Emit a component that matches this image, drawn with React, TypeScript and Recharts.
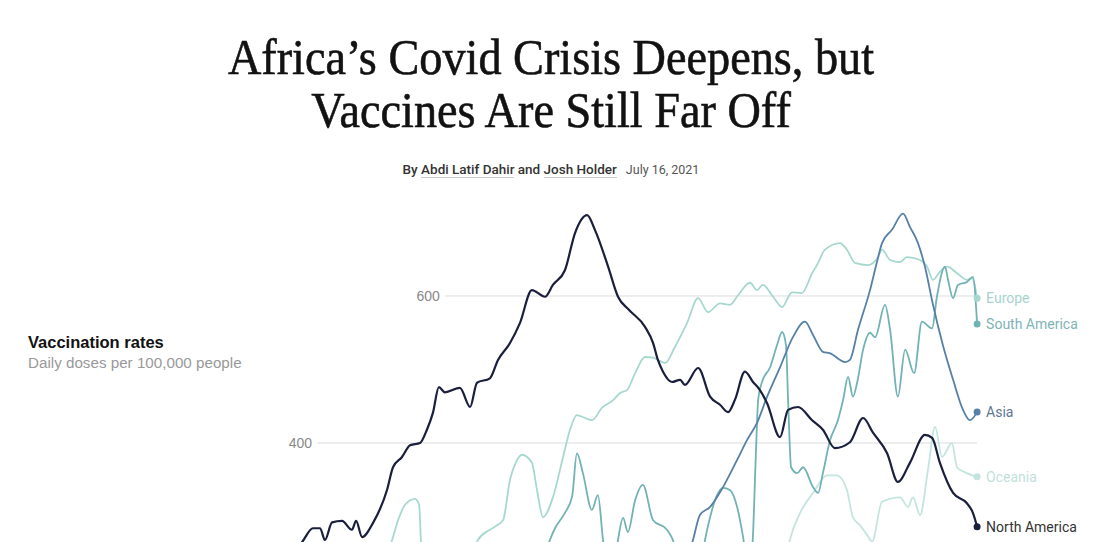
import React from 'react'
import { LineChart, Line, XAxis, YAxis, ReferenceLine } from 'recharts'

// [day, daily doses per 100,000 people]
const northAmerica: [number, number][] = [
  [-2, 250], [1, 267], [4.3, 284], [6.7, 284], [8.3, 268], [10.7, 292], [14, 294], [17.3, 282], [18.7, 294],
  [20.7, 272], [24.3, 291], [29, 336], [31, 367], [34, 381], [36.7, 397], [40, 400], [42.3, 418], [44.3, 441],
  [46.3, 476], [48.3, 469], [53.3, 475], [56.7, 449], [59, 482], [63.3, 488], [66, 513], [70, 536], [73.3, 563],
  [77.3, 608], [81.7, 599], [84.3, 615], [88.3, 635], [91.7, 686], [95.7, 710], [98.3, 690], [102.7, 640],
  [106, 599], [109.7, 581], [115, 558], [117.7, 536], [119.3, 513], [121, 497], [124, 483], [126.7, 486],
  [128.3, 479], [132.7, 502], [136.7, 463], [140, 452], [142.7, 442], [145, 459], [148.3, 497], [151, 483],
  [153.3, 472], [155.7, 454], [160, 408], [162.7, 445], [166, 449], [170.7, 431], [174.3, 418], [178.3, 393],
  [183.3, 401], [187.7, 434], [191, 414], [195.7, 386], [199.3, 347], [203.3, 373], [208.3, 411], [210.7, 407],
  [213.3, 373], [217.7, 332], [222.3, 318], [224.3, 305], [225.7, 286],
]

const europe: [number, number][] = [
  [27, 230], [30.7, 268], [32.7, 295], [35, 316], [38.3, 324], [39.7, 316], [40.3, 268], [41.5, 225], [56, 225],
  [59.3, 268], [63.3, 282], [65.7, 288], [67.7, 295], [70, 350], [72, 374], [74, 384], [77.3, 373], [79, 336],
  [81, 299], [84.3, 326], [87.7, 381], [90, 418], [92.3, 438], [95, 434], [97.3, 431], [100.7, 448], [104.3, 458],
  [106.7, 468], [109, 472], [111.7, 495], [115, 517], [117.7, 516], [121.7, 509], [125, 531], [129, 563],
  [132.7, 597], [136, 578], [140, 590], [143.3, 588], [146, 601], [150, 618], [152.3, 608], [154.3, 615],
  [157.7, 599], [160.7, 585], [164, 605], [167.3, 604], [170.7, 631], [172.3, 642], [175, 663], [180, 672],
  [182.3, 663], [185, 645], [189.3, 642], [192.7, 653], [194, 663], [196.7, 649], [200, 646], [202.3, 653],
  [206.7, 649], [209, 640], [211, 622], [213.3, 633], [215.7, 640], [219, 631], [222.3, 622], [224, 624],
  [225.7, 597],
]

const southAmerica: [number, number][] = [
  [80, 225], [83.3, 268], [85, 284], [88.3, 305], [90.7, 327], [92.3, 386], [94.3, 359], [97.3, 309], [99.3, 329],
  [101, 268], [102.5, 225], [104.5, 225], [106, 268], [107.7, 298], [109.3, 279], [111.7, 322], [114.3, 343],
  [117.7, 295], [122.3, 282], [124.3, 268], [126.5, 235], [133.5, 235], [135, 268], [136.7, 299], [139, 329],
  [141, 339], [143.3, 336], [145.7, 313], [147.7, 272], [149.3, 230], [150.7, 255], [152, 390], [152.7, 458],
  [154, 483], [156.7, 503], [159, 533], [160.7, 551], [162, 533], [162.7, 458], [163.7, 367], [165.7, 359],
  [167.7, 367], [171, 340], [172.7, 332], [174.3, 359], [176.7, 404], [179.3, 431], [181, 458], [182.7, 490],
  [184.3, 463], [185.7, 482], [187.7, 527], [190, 550], [191.7, 544], [195, 588], [196.7, 554], [199.3, 463],
  [201.7, 527], [204.7, 495], [207.3, 565], [210.7, 556], [212.3, 599], [215, 640], [216, 622], [217.7, 597],
  [219.3, 615], [222.3, 619], [224.3, 626], [225.7, 562],
]

const asia: [number, number][] = [
  [128.5, 235], [131, 268], [133.3, 302], [136.7, 313], [141, 340], [145.7, 377], [149, 404], [152.3, 427],
  [155.7, 463], [160, 503], [164.3, 544], [168.3, 565], [171, 547], [174.3, 524], [176.7, 522], [181.7, 510],
  [183.3, 513], [186, 554], [190, 608], [192.3, 646], [194, 672], [197.3, 690], [201, 712], [203.3, 694],
  [206, 672], [208.3, 640], [211, 588], [214.3, 533], [217.7, 486], [221, 445], [223.3, 431], [225.7, 442],
]

const oceania: [number, number][] = [
  [161.5, 230], [163.3, 268], [166.7, 305], [171, 332], [175.7, 356], [179, 356], [182.3, 336], [184.3, 299],
  [186.7, 288], [189, 275], [190.7, 266], [194, 320], [200, 326], [202.7, 313], [204.3, 326], [206.7, 302],
  [209.3, 363], [211.7, 422], [214, 381], [217.3, 400], [219, 367], [221.7, 360], [225.7, 354],
]

const gridValues = [400, 600]
const gridStarts = [5.7, 48.3]

const series = [
  { name: 'Oceania', points: oceania, color: '#c4e4df', text: '#c2dfdb', width: 1.8 },
  { name: 'Europe', points: europe, color: '#a7d8d0', text: '#a6d3cd', width: 1.8 },
  { name: 'South America', points: southAmerica, color: '#72b2b4', text: '#7db4b6', width: 1.8 },
  { name: 'Asia', points: asia, color: '#5680a8', text: '#5b7696', width: 1.8 },
  { name: 'North America', points: northAmerica, color: '#1a1f3d', text: '#333333', width: 2.2 },
]

const sans = '"Liberation Sans", Arial, sans-serif'

const endDot = (s: typeof series[number]) => (props: any) => {
  const { cx, cy, payload, index } = props
  const last = s.points[s.points.length - 1][0]
  if (payload.day !== last) return <g key={index} />
  return (
    <g key={index}>
      <circle cx={cx} cy={cy} r={3.5} fill={s.color} />
      <text x={cx + 9} y={cy} dy="0.35em" fill={s.text} fontSize={14} style={{ fontFamily: 'Roboto, sans-serif' }}>
        {s.name}
      </text>
    </g>
  )
}

export default function App() {
  return (
    <div style={{ position: 'absolute', left: 0, top: 0, width: 1102, height: 542, overflow: 'hidden', background: '#fff' }}>
      <div
        style={{
          position: 'absolute', left: 0, top: 31, width: 1102, textAlign: 'center',
          fontFamily: '"Liberation Serif", serif', fontSize: 51, lineHeight: '53px', color: '#121212',
          transform: 'scaleX(0.907)', transformOrigin: '551px 0', WebkitTextStroke: '0.6px #121212',
        }}
      >
        Africa’s Covid Crisis Deepens, but<br />Vaccines Are Still Far Off
      </div>
      <div
        style={{
          position: 'absolute', left: 0, top: 161, width: 1102, textAlign: 'center',
          fontFamily: 'Roboto, sans-serif', fontSize: 13.5, lineHeight: '16px', color: '#333',
        }}
      >
        <span style={{ fontWeight: 500 }}>By </span>
        <span style={{ fontWeight: 500, borderBottom: '1px solid #ccc' }}>Abdi Latif Dahir</span>
        <span style={{ fontWeight: 500 }}> and </span>
        <span style={{ fontWeight: 500, borderBottom: '1px solid #ccc' }}>Josh Holder</span>
        <span style={{ fontSize: 12.5, color: '#555', marginLeft: 9 }}>July 16, 2021</span>
      </div>
      <div style={{ position: 'absolute', left: 28, top: 333, fontFamily: sans, fontSize: 16.5, fontWeight: 700, color: '#121212' }}>
        Vaccination rates
      </div>
      <div style={{ position: 'absolute', left: 28, top: 354, fontFamily: sans, fontSize: 15.2, color: '#999' }}>
        Daily doses per 100,000 people
      </div>
      <div style={{ position: 'absolute', left: 0, top: 0 }}>
        <LineChart width={1102} height={542} margin={{ top: 0, right: 0, bottom: 0, left: 0 }}>
          <XAxis dataKey="day" type="number" domain={[-100, 267.33]} hide allowDataOverflow />
          <YAxis type="number" domain={[265.3, 1002.7]} hide allowDataOverflow />
          {gridValues.map((v, i) => (
            <ReferenceLine
              key={v}
              segment={[{ x: gridStarts[i], y: v }, { x: 225.7, y: v }]}
              stroke="#dcdcdc"
              strokeWidth={1}
              label={{ value: String(v), position: 'left', offset: 5, fill: '#888', fontSize: 14, style: { fontFamily: sans } }}
            />
          ))}
          {series.map((s) => (
            <Line
              key={s.name}
              data={s.points.map(([day, value]) => ({ day, value }))}
              dataKey="value"
              type="monotone"
              stroke={s.color}
              strokeWidth={s.width}
              dot={endDot(s)}
              activeDot={false}
              isAnimationActive={false}
            />
          ))}
        </LineChart>
      </div>
    </div>
  )
}
